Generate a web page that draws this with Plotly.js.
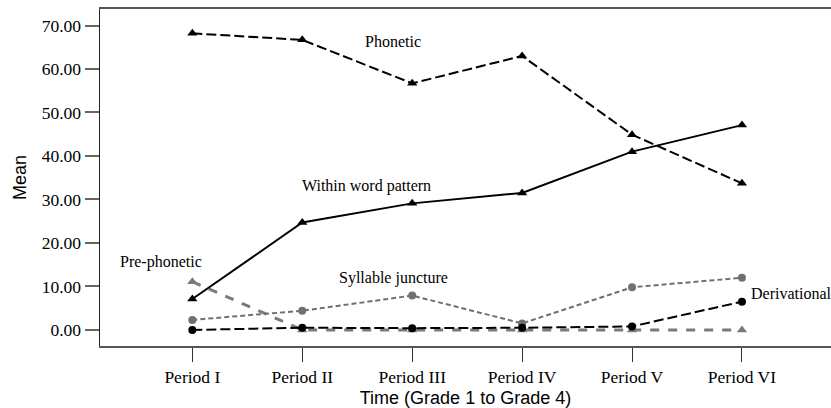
<!DOCTYPE html>
<html><head><meta charset="utf-8">
<script src="https://cdn.plot.ly/plotly-3.0.1.min.js"></script>
<style>html,body{margin:0;padding:0;background:#fff}</style>
</head><body>
<div id="chart" style="width:831px;height:408px"></div>
<script>
const periods = ["Period I","Period II","Period III","Period IV","Period V","Period VI"];
const phonetic = [68.2, 66.7, 56.7, 63.0, 44.9, 33.7];
const withinWord = [7.1, 24.7, 29.1, 31.5, 41.0, 47.1];
const prePhonetic = [11.1, 0.0, 0.0, 0.0, 0.0, 0.0];
const syllable = [2.3, 4.4, 7.9, 1.5, 9.8, 12.0];
const derivational = [0.0, 0.5, 0.4, 0.5, 0.8, 6.5];
const yTicks = [0, 10, 20, 30, 40, 50, 60, 70];

const serif = "Liberation Serif, Times New Roman, serif";
const sans = "Liberation Sans, Arial, sans-serif";

function tr(y, color, dash, width, symbol, size){
  return {x: periods, y: y, type: "scatter", mode: "lines+markers",
    line: {color: color, dash: dash, width: width},
    marker: {symbol: symbol, size: size, color: color}, cliponaxis: false};
}
const data = [
  tr(prePhonetic, "#7a7a7a", "dash", 3, "triangle-up", 9),
  tr(syllable, "#707070", "5px,3px", 2, "circle", 8),
  tr(derivational, "#000000", "10px,4px", 2, "circle", 8),
  tr(withinWord, "#000000", "solid", 2, "triangle-up", 9),
  tr(phonetic, "#000000", "10px,4px", 2, "triangle-up", 9)
];
function ann(text, x, y){
  return {text: text, xref: "paper", yref: "paper", x: x, y: y, showarrow: false,
    font: {family: serif, size: 16, color: "#000"}, xanchor: "center", yanchor: "middle"};
}
const W = 731, H = 337, L = 100, T = 9;
const px = (x)=> (x - L)/W, py = (y)=> 1 - (y - T)/H;
const layout = {
  width: 831, height: 408,
  margin: {l: 100, r: 0, t: 9, b: 62, pad: 0},
  paper_bgcolor: "#fff", plot_bgcolor: "#fff",
  showlegend: false,
  xaxis: {type: "category", range: [-0.84, 5.81], showgrid: false, zeroline: false,
    showline: true, linecolor: "#555", linewidth: 2, mirror: true,
    ticks: "outside", ticklen: 14, tickwidth: 1, tickcolor: "#333",
    tickfont: {family: serif, size: 17.5, color: "#000"},
    title: {text: "Time (Grade 1 to Grade 4)", font: {family: sans, size: 18, color: "#000"}, standoff: 5}},
  yaxis: {range: [-3.7, 73.8], showgrid: false, zeroline: false,
    showline: true, linecolor: "#222", linewidth: 1.5,
    tickvals: yTicks, ticktext: yTicks.map(v => v.toFixed(2)),
    ticks: "outside", ticklen: 14, tickwidth: 2, tickcolor: "#666",
    tickfont: {family: serif, size: 17.5, color: "#000"},
    title: {text: "Mean", font: {family: sans, size: 18, color: "#000"}, standoff: 10}},
  annotations: [
    ann("Phonetic", px(393), py(42)),
    ann("Within word pattern", px(366), py(186)),
    ann("Pre-phonetic", px(161), py(262)),
    ann("Syllable juncture", px(393), py(278)),
    ann("Derivational", px(791), py(293))
  ]
};
Plotly.newPlot("chart", data, layout, {displayModeBar: false, staticPlot: true});
</script>
</body></html>
